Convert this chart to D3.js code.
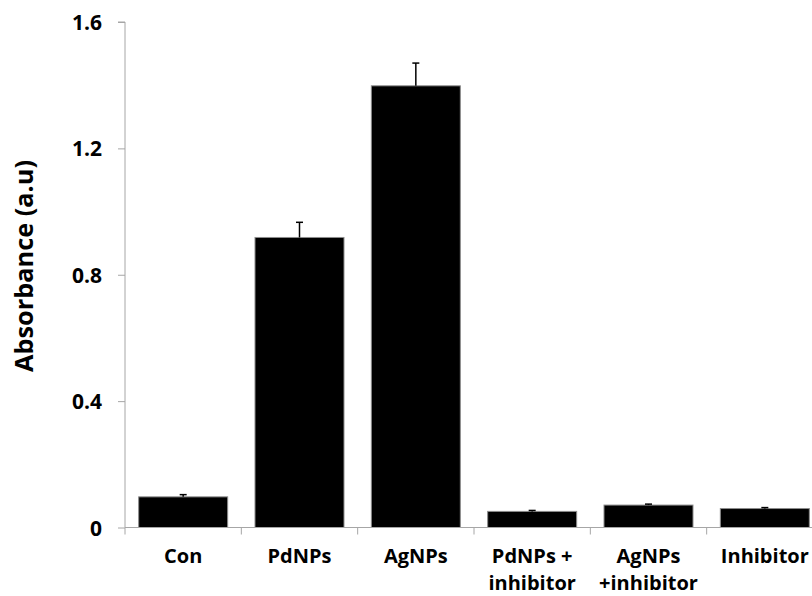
<!DOCTYPE html>
<html>
<head>
<meta charset="utf-8">
<script src="https://cdn.jsdelivr.net/npm/d3@7"></script>
<style>
  html, body { margin: 0; padding: 0; background: #fff; }
  svg { display: block; }
  text { font-family: "Open Sans", "Noto Sans", sans-serif; font-weight: 700; fill: #000; }
</style>
</head>
<body>
<svg id="chart" width="812" height="596"></svg>
<script>
// Absorbance per treatment group, with upper error (SD)
const categories = [["Con"], ["PdNPs"], ["AgNPs"], ["PdNPs +", "inhibitor"], ["AgNPs", "+inhibitor"], ["Inhibitor"]];
const values = [0.097, 0.918, 1.398, 0.051, 0.071, 0.060];
const errors = [0.007, 0.048, 0.072, 0.003, 0.003, 0.003];
const yTicks = [0, 0.4, 0.8, 1.2, 1.6];

const svg = d3.select("#chart");
const plotLeft = 125, plotRight = 823, plotTop = 22, plotBottom = 527.5;

const keys = categories.map(c => c.join(" "));
const x = d3.scaleBand().domain(keys).range([plotLeft, plotRight]).padding(0);
const y = d3.scaleLinear().domain([0, 1.6]).range([plotBottom, plotTop]);

const barW = x.bandwidth() * 0.765;

// Y axis
const yAxis = svg.append("g")
  .attr("transform", `translate(${plotLeft},0)`)
  .call(d3.axisLeft(y).tickValues(yTicks).tickSize(7).tickPadding(16)
    .tickFormat(d => d === 0 ? "0" : d3.format(".1f")(d)));
yAxis.select(".domain").attr("stroke", "#a6a6a6").attr("d", `M-7,${plotTop}H0V${plotBottom}`);
yAxis.selectAll(".tick line").attr("stroke", "#a6a6a6");
yAxis.selectAll(".tick text").attr("font-size", 21).attr("dy", "0.36em");

// Bars
const data = keys.map((k, i) => ({ k, v: values[i], e: errors[i] }));
svg.append("g").selectAll("rect").data(data).join("rect")
  .attr("x", d => x(d.k) + (x.bandwidth() - barW) / 2)
  .attr("y", d => y(d.v))
  .attr("width", barW)
  .attr("height", d => y(0) - y(d.v))
  .attr("fill", "#000")
  .attr("stroke", "#8c8c8c")
  .attr("stroke-width", 1);

// Error bars (upper only)
const eb = svg.append("g").attr("stroke", "#000").attr("stroke-width", 1.5);
data.forEach(d => {
  const cx = x(d.k) + x.bandwidth() / 2;
  eb.append("line").attr("x1", cx).attr("x2", cx).attr("y1", y(d.v)).attr("y2", y(d.v + d.e));
  eb.append("line").attr("x1", cx - 3.5).attr("x2", cx + 3.5).attr("y1", y(d.v + d.e)).attr("y2", y(d.v + d.e));
});

// X axis
const xAxis = svg.append("g")
  .attr("transform", `translate(0,${plotBottom})`)
  .call(d3.axisBottom(x).tickSize(0).tickFormat(""));
xAxis.select(".domain").attr("stroke", "#a6a6a6").attr("d", `M${plotLeft},0H${plotRight}`);
svg.append("g").selectAll("line").data(keys.concat([null])).join("line")
  .attr("x1", (d, i) => plotLeft + i * x.step())
  .attr("x2", (d, i) => plotLeft + i * x.step())
  .attr("y1", plotBottom).attr("y2", plotBottom + 7)
  .attr("stroke", "#a6a6a6");

// Category labels (two-line labels for the combined treatments)
const lab = svg.append("g").selectAll("text").data(categories).join("text")
  .attr("x", (d, i) => x(keys[i]) + x.bandwidth() / 2)
  .attr("y", 563)
  .attr("text-anchor", "middle")
  .attr("font-size", 20);
lab.each(function(d) {
  const t = d3.select(this);
  d.forEach((line, j) => {
    t.append("tspan").attr("x", t.attr("x")).attr("dy", j === 0 ? 0 : 27.3).text(line);
  });
});

// Y axis title, sized to span the plot's middle section
const title = svg.append("text")
  .attr("transform", "translate(33,266) rotate(-90)")
  .attr("text-anchor", "middle")
  .attr("font-size", 22)
  .text("Absorbance (a.u)");
const tw = title.node().getComputedTextLength();
title.attr("font-size", 22 * 212 / tw);
</script>
</body>
</html>
